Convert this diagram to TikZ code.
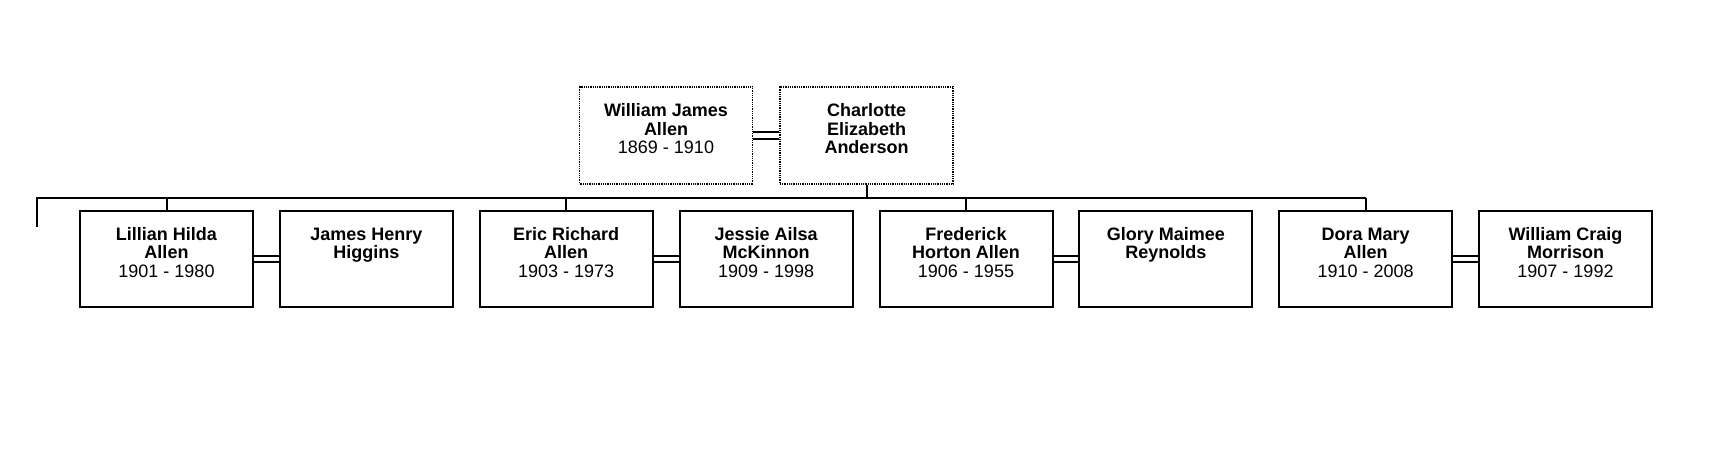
\documentclass[tikz,border=0pt]{standalone}
\usepackage{fontspec}
\setmainfont{Liberation Sans}
\newcommand\ptext[1]{\fontsize{18}{18.5}\selectfont\begin{tabular}[t]{@{}c@{}}#1\end{tabular}}
\begin{document}
\begin{tikzpicture}[x=1pt,y=-1pt,
  personbox/.style={draw=black, line width=2pt, minimum width=173pt, minimum height=96pt, inner sep=0pt, fill=white},
  rootbox/.style={personbox, line width=1.6pt, dash pattern=on 1pt off 0.8pt, minimum height=97pt},
  ptxt/.style={anchor=base, inner sep=0pt, text=black},
  link/.style={draw=black, line width=2pt},
  marriage/.style={draw=black, double=white, double distance=4.6pt, line width=2pt}]
\useasboundingbox (0,0) rectangle (1714,474);
% parents
\node[rootbox] (wja) at (666,135.5) {};
\node[rootbox] (cea) at (866.5,135.5) {};
\node[ptxt] (twja) at (666,116.5) {\ptext{\textbf{William James}\\\textbf{Allen}\\1869 - 1910}};
\node[ptxt] (tcea) at (866.5,116.5) {\ptext{\textbf{Charlotte}\\\textbf{Elizabeth}\\\textbf{Anderson}}};
\draw[marriage] (wja) -- (cea);
% children row
\node[personbox] (k1) at (166.5,259) {};
\node[personbox] (k2) at (366.4,259) {};
\node[personbox] (k3) at (566.2,259) {};
\node[personbox] (k4) at (766.1,259) {};
\node[personbox] (k5) at (966.0,259) {};
\node[personbox] (k6) at (1165.8,259) {};
\node[personbox] (k7) at (1365.7,259) {};
\node[personbox] (k8) at (1565.5,259) {};
\node[ptxt] (t1) at (166.5,240) {\ptext{\textbf{Lillian Hilda}\\\textbf{Allen}\\1901 - 1980}};
\node[ptxt] (t2) at (366.4,240) {\ptext{\textbf{James Henry}\\\textbf{Higgins}}};
\node[ptxt] (t3) at (566.2,240) {\ptext{\textbf{Eric Richard}\\\textbf{Allen}\\1903 - 1973}};
\node[ptxt] (t4) at (766.1,240) {\ptext{\textbf{Jessie Ailsa}\\\textbf{McKinnon}\\1909 - 1998}};
\node[ptxt] (t5) at (966.0,240) {\ptext{\textbf{Frederick}\\\textbf{Horton Allen}\\1906 - 1955}};
\node[ptxt] (t6) at (1165.8,240) {\ptext{\textbf{Glory Maimee}\\\textbf{Reynolds}}};
\node[ptxt] (t7) at (1365.7,240) {\ptext{\textbf{Dora Mary}\\\textbf{Allen}\\1910 - 2008}};
\node[ptxt] (t8) at (1565.5,240) {\ptext{\textbf{William Craig}\\\textbf{Morrison}\\1907 - 1992}};
\draw[marriage] (k1) -- (k2);
\draw[marriage] (k3) -- (k4);
\draw[marriage] (k5) -- (k6);
\draw[marriage] (k7) -- (k8);
% descent lines
\coordinate (busl) at (37,197.5);
\coordinate (stub) at (37,227);
\draw[link] (cea.south) -- (cea.south |- busl);
\draw[link] (stub) -- (busl) -- (k7.north |- busl);
\draw[link] (k1.north) -- (k1.north |- busl);
\draw[link] (k3.north) -- (k3.north |- busl);
\draw[link] (k5.north) -- (k5.north |- busl);
\draw[link] (k7.north) -- (k7.north |- busl);
\end{tikzpicture}
\end{document}
